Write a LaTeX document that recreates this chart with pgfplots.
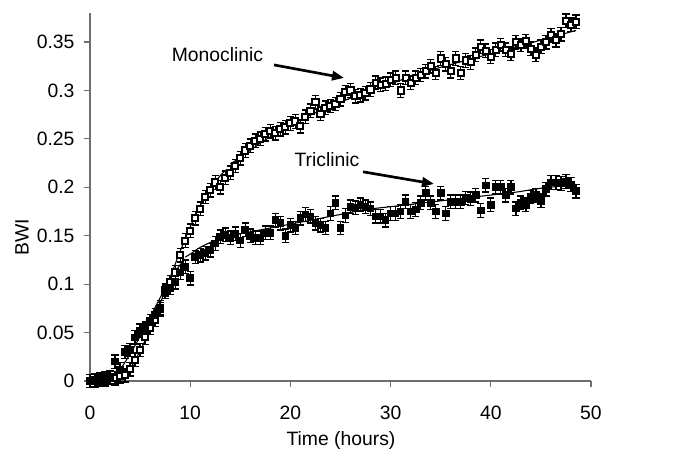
\documentclass[border=0pt]{standalone}
\usepackage{pgfplots}
\pgfplotsset{compat=1.18}
\usepackage{fontspec}
\setmainfont{Liberation Sans}
\usetikzlibrary{arrows.meta}
\definecolor{axgray}{RGB}{110,110,110}
\newcommand{\chf}{\fontsize{14.5}{17}\selectfont}
\begin{document}
\begin{tikzpicture}
\path[use as bounding box] (-67.5pt,-51.75pt) rectangle (438.75pt,285.75pt);
\begin{axis}[
  at={(0,0)}, anchor=south west,
  scale only axis, width=375.75pt, height=276pt,
  xmin=0, xmax=50, ymin=0, ymax=0.38,
  axis x line*=bottom, axis y line*=left,
  axis line style={axgray, line width=0.9pt},
  tick style={axgray, line width=0.9pt},
  tick align=outside, major tick length=4.5pt,
  xtick={0,10,20,30,40,50},
  ytick={0,0.05,0.1,0.15,0.2,0.25,0.3,0.35},
  yticklabels={0,0.05,0.1,0.15,0.2,0.25,0.3,0.35},
  /pgf/number format/assume math mode=true,
  tick label style={font=\chf},
  xticklabel style={anchor=north, inner sep=0pt, yshift=-14pt},
  yticklabel style={anchor=east, inner sep=0pt, xshift=-7pt},
  xlabel={Time (hours)}, ylabel={BWI},
  label style={font=\chf},
  xlabel style={at={(axis description cs:0.501,-0.162)}, anchor=center},
  ylabel style={at={(axis description cs:-0.136,0.39)}, anchor=center, rotate=0},
  clip=false,
]
% Monoclinic data
\addplot[only marks, mark=square*, mark size=2.3pt, mark options={fill=white, draw=black, line width=1.5pt},
  error bars/.cd, y dir=both, y fixed=0.007,
  error bar style={black, line width=1pt},
  error mark options={rotate=90, mark size=2.7pt, line width=1pt}]
coordinates {
(0,0.000)(0.5,0.001)(1,0.002)(1.5,0.003)(2,0.004)(2.5,0.003)(3,0.005)(3.5,0.006)
(4,0.012)(4.5,0.022)(5,0.032)(5.5,0.045)(6,0.055)(6.5,0.063)(7,0.074)(7.5,0.092)
(8,0.102)(8.5,0.112)(9,0.130)(9.5,0.145)(10,0.155)(10.5,0.168)(11,0.178)(11.5,0.190)
(12,0.197)(12.5,0.205)(13,0.200)(13.5,0.210)(14,0.215)(14.5,0.222)(15,0.230)(15.5,0.238)
(16,0.243)(16.5,0.248)(17,0.250)(17.5,0.255)(18,0.258)(18.5,0.256)(19,0.260)(19.5,0.262)
(20,0.266)(20.5,0.268)(21,0.263)(21.5,0.273)(22,0.279)(22.5,0.288)(23,0.276)(23.5,0.282)
(24,0.284)(24.5,0.286)(25,0.291)(25.5,0.298)(26,0.300)(26.5,0.294)(27,0.295)(27.5,0.297)
(28,0.301)(28.5,0.308)(29,0.306)(29.5,0.307)(30,0.311)(30.5,0.313)(31,0.300)(31.5,0.313)
(32,0.308)(32.5,0.313)(33,0.316)(33.5,0.320)(34,0.325)(34.5,0.318)(35,0.333)(35.5,0.327)
(36,0.320)(36.5,0.333)(37,0.318)(37.5,0.331)(38,0.329)(38.5,0.337)(39,0.345)(39.5,0.341)
(40,0.335)(40.5,0.342)(41,0.347)(41.5,0.342)(42,0.338)(42.5,0.350)(43,0.347)(43.5,0.351)
(44,0.343)(44.5,0.337)(45,0.345)(45.5,0.350)(46,0.357)(46.5,0.352)(47,0.358)(47.5,0.372)
(48,0.368)(48.5,0.371)
};
% Triclinic data
\addplot[only marks, mark=square*, mark size=2.5pt, mark options={fill=black, draw=black, line width=0.8pt},
  error bars/.cd, y dir=both, y fixed=0.007,
  error bar style={black, line width=1pt},
  error mark options={rotate=90, mark size=2.7pt, line width=1pt}]
coordinates {
(0,0.000)(0.5,0.000)(1,0.001)(1.5,0.002)(2,0.004)(2.5,0.020)(3,0.012)(3.5,0.030)
(4,0.032)(4.5,0.045)(5,0.052)(5.5,0.054)(6,0.062)(6.5,0.068)(7,0.076)(7.5,0.094)
(8,0.096)(8.5,0.102)(9,0.112)(9.5,0.118)(10,0.106)(10.5,0.128)(11,0.130)(11.5,0.132)
(12,0.135)(12.5,0.142)(13,0.149)(13.5,0.151)(14,0.148)(14.5,0.152)(15,0.145)(15.5,0.156)
(16,0.150)(16.5,0.148)(17,0.148)(17.5,0.153)(18,0.153)(18.5,0.166)(19,0.163)(19.5,0.150)
(20,0.161)(20.5,0.158)(21,0.168)(21.5,0.172)(22,0.170)(22.5,0.163)(23,0.161)(23.5,0.158)
(24,0.173)(24.5,0.184)(25,0.158)(25.5,0.171)(26,0.180)(26.5,0.179)(27,0.182)(27.5,0.180)
(28,0.178)(28.5,0.170)(29,0.170)(29.5,0.166)(30,0.173)(30.5,0.173)(31,0.175)(31.5,0.185)
(32,0.175)(32.5,0.177)(33,0.184)(33.5,0.194)(34,0.184)(34.5,0.175)(35,0.194)(35.5,0.173)
(36,0.185)(36.5,0.185)(37,0.185)(37.5,0.189)(38,0.188)(38.5,0.192)(39,0.176)(39.5,0.202)
(40,0.182)(40.5,0.200)(41,0.200)(41.5,0.192)(42,0.200)(42.5,0.178)(43,0.184)(43.5,0.182)
(44,0.190)(44.5,0.192)(45,0.186)(45.5,0.198)(46,0.205)(46.5,0.205)(47,0.204)(47.5,0.206)
(48,0.203)(48.5,0.196)
};
% Fit curves
\addplot[black, line width=0.8pt, smooth] coordinates {
(0,0)(2,0.001)(3,0.004)(4,0.013)(5,0.031)(6,0.054)(7,0.080)(8,0.107)(9,0.134)(10,0.159)(11,0.181)(12,0.199)(13,0.212)(13.6,0.218)};
\addplot[black, line width=0.8pt, smooth] coordinates {
(14,0.224)(15,0.231)(17.5,0.249)(20,0.264)(22.5,0.277)(25,0.288)(27.5,0.298)(30,0.307)(32.5,0.316)(35,0.324)(37.5,0.331)(40,0.338)(42.5,0.345)(45,0.352)(48.5,0.362)};
\addplot[black, line width=0.8pt, smooth] coordinates {
(0,0)(2,0.003)(3,0.012)(4,0.028)(5,0.046)(6,0.066)(7,0.086)(8,0.105)(9,0.120)(9.5,0.126)};
\addplot[black, line width=0.8pt, smooth] coordinates {
(9.5,0.128)(10,0.131)(11,0.138)(12,0.143)(13,0.147)(14,0.150)(15,0.152)(17.5,0.157)(20,0.162)(22.5,0.167)(25,0.172)(27.5,0.177)(30,0.180)(32.5,0.183)(35,0.186)(37.5,0.189)(40,0.192)(42.5,0.195)(45,0.199)(48.5,0.203)};
% Annotations
\node[font=\chf, inner sep=0pt] at (axis cs:12.72,0.3368) {Monoclinic};
\draw[line width=2pt, -{Triangle[length=9pt,width=7pt]}] (axis cs:18.36,0.3264) -- (axis cs:25.35,0.313);
\node[font=\chf, inner sep=0pt] at (axis cs:23.65,0.2283) {Triclinic};
\draw[line width=2pt, -{Triangle[length=9pt,width=7pt]}] (axis cs:27.25,0.216) -- (axis cs:34.33,0.2035);
\end{axis}
\end{tikzpicture}
\end{document}
